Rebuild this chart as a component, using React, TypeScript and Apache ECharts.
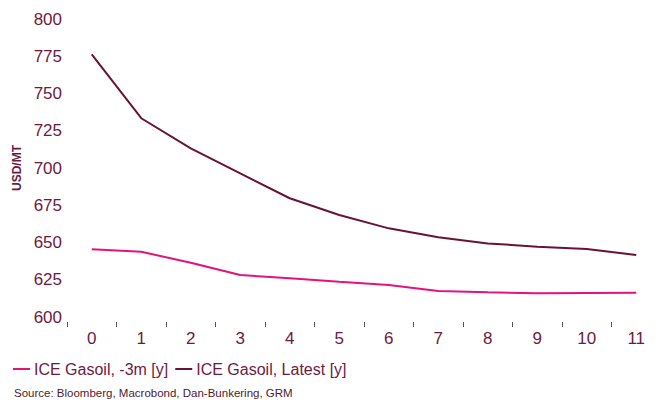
import React, { useEffect, useRef } from "react";
import * as echarts from "echarts";

const categories = ["0", "1", "2", "3", "4", "5", "6", "7", "8", "9", "10", "11"];
const threeMonthsAgo = [645.4, 643.8, 636.4, 628.2, 626, 623.7, 621.5, 617.4, 616.6, 615.9, 616.1, 616.3];
const latest = [776.3, 733.4, 713.2, 696.4, 679.7, 668.5, 659.5, 653.5, 649.4, 647.2, 645.6, 641.6];
const seriesNames = ["ICE Gasoil, -3m [y]", "ICE Gasoil, Latest [y]"];
const yTicks = { min: 600, max: 800, interval: 25 };

const TEXT = "#6e1a3f";
const PINK = "#e5127d";
const DARK = "#6a1236";

export default function App() {
  const ref = useRef<HTMLDivElement>(null);
  useEffect(() => {
    if (!ref.current) return;
    const chart = echarts.init(ref.current, null, { renderer: "svg" });
    chart.setOption({
      animation: false,
      textStyle: { fontFamily: "Liberation Sans, Arial, sans-serif" },
      grid: { left: 67, right: -7, top: 19, bottom: 86, containLabel: false },
      legend: {
        left: 8,
        top: 356,
        icon: "rect",
        itemWidth: 17,
        itemHeight: 2,
        itemGap: 7,
        textStyle: { color: TEXT, fontSize: 16, padding: [0, 0, 0, -1] },
        data: seriesNames,
      },
      graphic: [
        {
          type: "text",
          left: 14,
          top: 387,
          style: {
            text: "Source: Bloomberg, Macrobond, Dan-Bunkering, GRM",
            fill: "#4e1a30",
            font: "11.5px Liberation Sans, Arial, sans-serif",
          },
        },
      ],
      xAxis: {
        type: "category",
        data: categories,
        boundaryGap: true,
        offset: 5,
        axisLine: { show: false },
        axisTick: { show: true, length: 5, lineStyle: { color: "#555", width: 1 } },
        axisLabel: { color: TEXT, fontSize: 17, margin: 8 },
        splitLine: { show: false },
      },
      yAxis: {
        type: "value",
        min: yTicks.min,
        max: yTicks.max,
        interval: yTicks.interval,
        name: "USD/MT",
        nameLocation: "middle",
        nameGap: 38,
        nameRotate: 90,
        nameTextStyle: { color: TEXT, fontSize: 12, fontWeight: "bold" },
        axisLine: { show: false },
        axisTick: { show: false },
        splitLine: { show: false },
        axisLabel: { color: TEXT, fontSize: 17, margin: 5 },
      },
      series: [
        {
          name: seriesNames[0],
          type: "line",
          data: threeMonthsAgo,
          symbol: "none",
          lineStyle: { color: PINK, width: 2 },
          itemStyle: { color: PINK },
        },
        {
          name: seriesNames[1],
          type: "line",
          data: latest,
          symbol: "none",
          lineStyle: { color: DARK, width: 2 },
          itemStyle: { color: DARK },
        },
      ],
    });
    return () => chart.dispose();
  }, []);
  return <div ref={ref} style={{ width: 661, height: 403, position: "absolute", left: 0, top: 0 }} />;
}
